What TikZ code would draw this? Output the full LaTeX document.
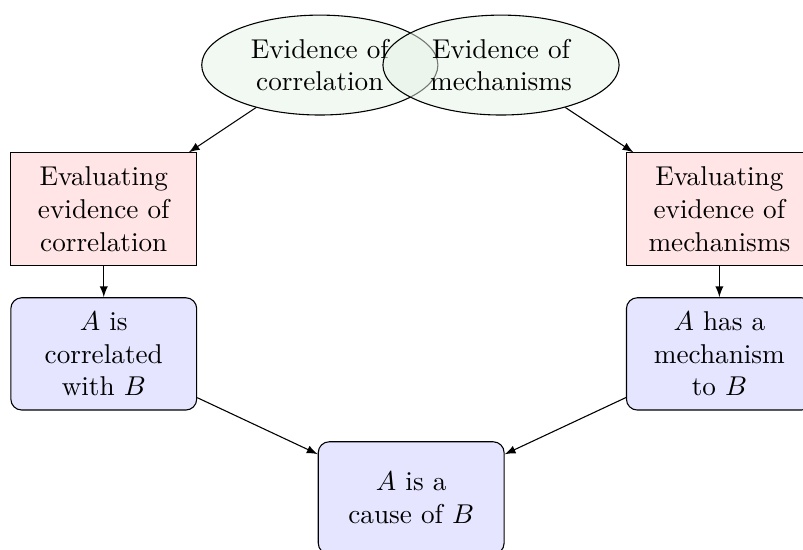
\documentclass[tikz,border=0pt]{standalone}
\usepackage{amsmath}
\usepackage{tikz}
\usetikzlibrary{shapes,backgrounds,arrows}

\begin{document}
\begin{tikzpicture}[
		evid/.style={ellipse, draw, fill=green!50!black!10, fill opacity=0.5, text opacity=1, minimum width=3.05cm, minimum height=1.29cm, inner sep=1pt, align=center},
		evalbox/.style={rectangle, draw, fill=red!10, minimum width=2.4cm, minimum height=1.45cm, align=center},
		claimbox/.style={rectangle, rounded corners, draw, fill=blue!10, minimum width=2.4cm, minimum height=1.45cm, align=center},
		link/.style={-latex}
	]
		\useasboundingbox (0,0) rectangle (10.37,-7.09);
		\begin{scope}
			\node[evid] (ecor) at (4.13,-0.84) {Evidence of\\correlation};
			\node[evid] (emech) at (6.47,-0.84) {Evidence of\\mechanisms};
			\node[evalbox] (vcor) at (1.34,-2.70) {Evaluating\\evidence of\\correlation};
			\node[evalbox] (vmech) at (9.29,-2.70) {Evaluating\\evidence of\\mechanisms};
			\node[claimbox] (ccor) at (1.34,-4.57) {$A$ is\\correlated\\with $B$};
			\node[claimbox] (cmech) at (9.29,-4.57) {$A$ has a\\mechanism\\to $B$};
			\node[claimbox] (cause) at (5.31,-6.43) {$A$ is a\\cause of $B$};
			\draw[link] (ecor) -- (vcor);
			\draw[link] (emech) -- (vmech);
			\draw[link] (vcor) -- (ccor);
			\draw[link] (vmech) -- (cmech);
			\draw[link] (ccor) -- (cause);
			\draw[link] (cmech) -- (cause);
		\end{scope}
	\end{tikzpicture}
\end{document}
